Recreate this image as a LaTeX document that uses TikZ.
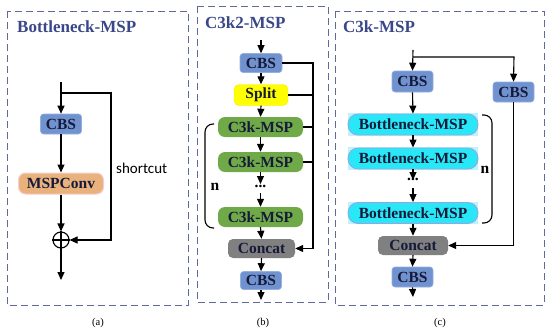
\documentclass[tikz,border=0pt]{standalone}
\usepackage{fontspec}
\setmainfont{Liberation Serif}[BoldFont={Liberation Serif Bold}]
\newfontfamily\shortfont{Carlito}
\usetikzlibrary{arrows.meta}
\definecolor{cbsblue}{RGB}{112,146,206}
\definecolor{cbsline}{RGB}{150,175,225}
\definecolor{txtc}{RGB}{22,26,58}
\definecolor{mspfill}{RGB}{233,178,124}
\definecolor{mspline}{RGB}{246,206,206}
\definecolor{grn}{RGB}{112,170,72}
\definecolor{ylw}{RGB}{255,255,0}
\definecolor{gry}{RGB}{128,128,128}
\definecolor{cyn}{RGB}{40,232,248}
\definecolor{cynline}{RGB}{160,160,225}
\definecolor{cynglow}{RGB}{185,245,252}
\definecolor{titc}{RGB}{58,72,138}
\definecolor{framec}{RGB}{95,105,155}
\begin{document}
\begin{tikzpicture}[x=1pt,y=-1pt,
  frame/.style={draw=framec, line width=0.9pt, dash pattern=on 7pt off 4pt},
  title/.style={anchor=west, text=titc, font=\bfseries\fontsize{17}{17}\selectfont, inner sep=0pt},
  blk/.style={rounded corners=3pt, inner sep=0pt, minimum height=20pt, text=txtc,
    font=\bfseries\fontsize{15.5}{15.5}\selectfont},
  cbs/.style={blk, fill=cbsblue, draw=cbsline, line width=0.6pt, minimum width=41pt},
  msp/.style={blk, fill=mspfill, draw=mspline, line width=1pt, rounded corners=7pt, minimum width=85pt, minimum height=21pt},
  split/.style={blk, fill=ylw, draw=ylw!80!orange, line width=0.4pt, rounded corners=5pt, minimum width=54pt, minimum height=21pt},
  c3k/.style={blk, fill=grn, rounded corners=7pt, minimum width=85pt},
  cat/.style={blk, fill=gry, rounded corners=5pt, minimum width=67pt, minimum height=19pt},
  bot/.style={blk, fill=cyn, draw=cynline, line width=0.8pt, rounded corners=10pt, minimum width=130pt, minimum height=21pt},
  glow/.style={fill=cynglow, draw=none},
  ln/.style={line width=1.1pt, draw=black},
  arr/.style={ln, -{Triangle[length=8pt,width=7pt]}},
  lab/.style={font=\fontsize{10.5}{10.5}\selectfont, inner sep=0pt},
  nn/.style={font=\bfseries\fontsize{15.5}{15.5}\selectfont, inner sep=0pt}
]
\useasboundingbox (0,0) rectangle (550,335);
\fill[white] (0,0) rectangle (550,335);

% frames
\draw[frame] (7,11) rectangle (188,305);
\draw[frame] (197,6) rectangle (328,302);
\draw[frame] (335,11) rectangle (544,305);

% titles
\node[title] (ta) at (17,27) {Bottleneck-MSP};
\node[title] (tb) at (205,23) {C3k2-MSP};
\node[title] (tc) at (343,27) {C3k-MSP};

% ---------------- (a)
\coordinate (ain) at (61,82);
\coordinate (asp) at (61,93);
\coordinate (abr) at (111,93);
\node[cbs] (a1) at (61,124) {CBS};
\node[msp] (a2) at (61,183.5) {MSPConv};
\node[circle, draw, line width=1.1pt, minimum size=16pt, inner sep=0pt] (a3) at (61,240) {};
\draw[ln] (a3.north) -- (a3.south);
\draw[ln] (a3.west) -- (a3.east);
\coordinate (aout) at (61,280);
\draw[arr] (ain) -- (a1.north);
\draw[arr] (a1.south) -- (a2.north);
\draw[arr] (a2.south) -- (a3.north);
\draw[arr] (a3.south) -- (aout);
\draw[arr] (asp) -- (abr) -- (abr |- a3.east) -- (a3.east);
\node[font=\shortfont\fontsize{15}{15}\selectfont, anchor=west, inner sep=0pt] (sc) at (116,168) {shortcut};
\node[lab] (la) at (98,323) {(a)};

% ---------------- (b)
\coordinate (bin) at (261,40);
\node[cbs, minimum width=42pt, minimum height=19pt] (b1) at (261,63) {CBS};
\node[split] (b2) at (261,95) {Split};
\node[c3k] (b3) at (260.5,127) {C3k-MSP};
\node[c3k] (b4) at (260.5,162) {C3k-MSP};
\node[nn] (bd) at (260.5,186) {...};
\node[c3k] (b5) at (260.5,217) {C3k-MSP};
\node[cat] (b6) at (261.5,248.5) {Concat};
\node[cbs, minimum height=18pt] (b7) at (261,280.5) {CBS};
\coordinate (bout) at (261,300);
\coordinate (bbus) at (313,63);
\draw[arr] (bin) -- (b1.north);
\draw[arr] (b1.south) -- (b2.north);
\draw[arr] (b2.south) -- (b3.north);
\draw[arr] (b3.south) -- (b4.north);
\draw[arr] (b4.south) -- (260.5,184);
\draw[arr] (260.5,193) -- (b5.north);
\draw[arr] (b5.south) -- (b6.north);
\draw[arr] (b6.south) -- (b7.north);
\draw[arr] (b7.south) -- (bout);
\draw[arr] (b1.east) -- (bbus) -- (bbus |- b6.east) -- (b6.east);
\draw[ln] (b2.east) -- (b2.east -| bbus);
\draw[ln] (b3.east) -- (b3.east -| bbus);
\draw[ln] (b4.east) -- (b4.east -| bbus);
\draw[ln, rounded corners=8pt] (214,124) -- (205,124) -- (205,228) -- (214,228);
\node[nn] (bn) at (215,187) {n};
\node[lab] (lb) at (263,323) {(b)};

% ---------------- (c)
\coordinate (cin) at (413,50);
\coordinate (csp) at (413,57);
\coordinate (cbr) at (514,57);
\node[cbs, minimum height=21pt] (c1) at (412.5,81.5) {CBS};
\fill[glow] (348,113) rectangle (478,136);
\fill[glow] (348,147) rectangle (478,170);
\fill[glow] (348,202) rectangle (478,224);
\node[bot] (c2) at (413,124.5) {Bottleneck-MSP};
\node[bot] (c3) at (413,158.5) {Bottleneck-MSP};
\node[nn] (cd) at (413,179) {...};
\node[bot] (c4) at (413,213) {Bottleneck-MSP};
\node[cat, minimum width=70pt] (c5) at (413,245.5) {Concat};
\node[cbs] (c6) at (412.5,277) {CBS};
\coordinate (cout) at (413,297);
\node[cbs] (c7) at (513.5,92) {CBS};
\draw[arr] (cin) -- (c1.north);
\draw[arr] (csp) -- (cbr) -- (c7.north);
\draw[arr] (c1.south) -- (c2.north);
\draw[arr] (c2.south) -- (c3.north);
\draw[arr] (c3.south) -- (413,180);
\draw[arr] (413,188) -- (c4.north);
\draw[arr] (c4.south) -- (c5.north);
\draw[arr] (c5.south) -- (c6.north);
\draw[arr] (c6.south) -- (cout);
\draw[arr] (c7.south) -- (c7.south |- c5.east) -- (c5.east);
\draw[ln, rounded corners=8pt] (482,115) -- (492,115) -- (492,223) -- (482,223);
\node[nn] (cn) at (485,170) {n};
\node[lab] (lc) at (440,323) {(c)};
\end{tikzpicture}
\end{document}
